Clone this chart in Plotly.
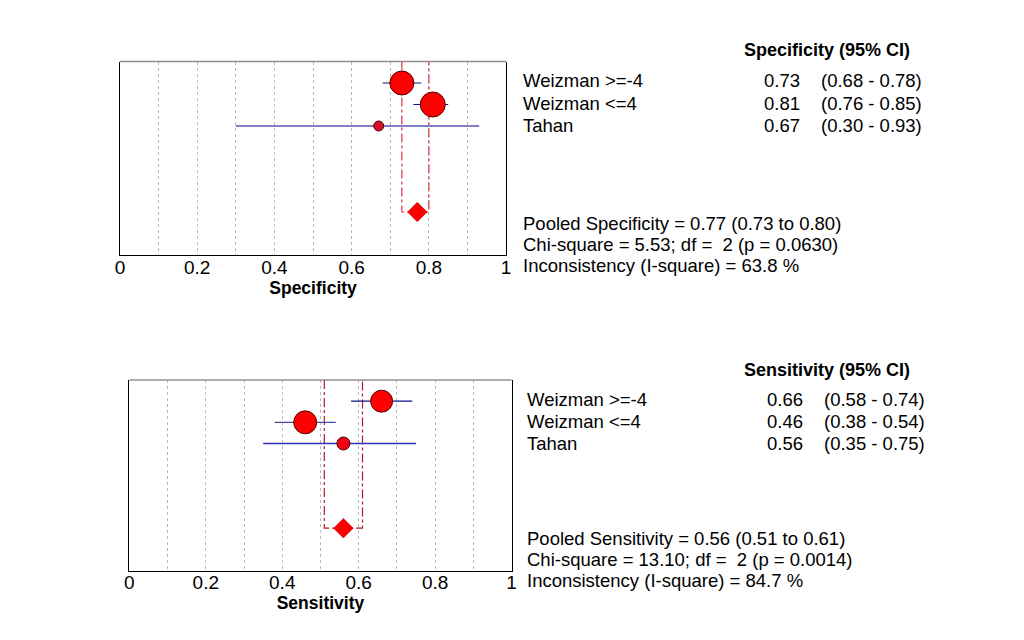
import plotly.graph_objects as go

# ---------------- data ----------------
studies = ["Weizman >=-4", "Weizman <=4", "Tahan"]

spec = [0.73, 0.81, 0.67]
spec_lo = [0.68, 0.76, 0.30]
spec_hi = [0.78, 0.85, 0.93]
spec_pooled = 0.77
spec_pooled_lo = 0.73
spec_pooled_hi = 0.80
spec_stats = ["Pooled Specificity = 0.77 (0.73 to 0.80)",
              "Chi-square = 5.53; df =  2 (p = 0.0630)",
              "Inconsistency (I-square) = 63.8 %"]

sens = [0.66, 0.46, 0.56]
sens_lo = [0.58, 0.38, 0.35]
sens_hi = [0.74, 0.54, 0.75]
sens_pooled = 0.56
sens_pooled_lo = 0.51
sens_pooled_hi = 0.61
sens_stats = ["Pooled Sensitivity = 0.56 (0.51 to 0.61)",
              "Chi-square = 13.10; df =  2 (p = 0.0014)",
              "Inconsistency (I-square) = 84.7 %"]

tick_vals = [0, 0.1, 0.2, 0.3, 0.4, 0.5, 0.6, 0.7, 0.8, 0.9, 1]
tick_text = ["0", "", "0.2", "", "0.4", "", "0.6", "", "0.8", "", "1"]

# ---------------- styles ----------------
W, H = 1024, 640
OX, OY = 8, 8          # page body margin
PAD = 3                # annotation inner padding
FONT = "Liberation Sans, Arial, sans-serif"
TXT = 18.5
spec_sizes = [24, 25, 10]
sens_sizes = [22, 23, 13]
spec_fill = ["#FF0000", "#FF0000", "#D81028"]
sens_fill = ["#FF0000", "#FF0000", "#F00010"]
spec_ci_colors = ["#101090", "#101090", "#8080C0"]
spec_ci_widths = [1.2, 1.2, 1.8]
sens_ci_colors = ["#101090", "#4848A8", "#3030C0"]
sens_ci_widths = [1.2, 1.4, 1.3]
rows = [1, 2, 3]
pooled_row = 7

fig = go.Figure()


def add_panel(xa, ya, est, lo, hi, p, plo, phi, sizes, fills, ci_colors, ci_widths, pooled_color):
    fig.add_trace(go.Scatter(x=[plo, plo, phi, phi], y=[0, pooled_row, pooled_row, 0],
                             mode="lines", xaxis=xa, yaxis=ya,
                             line=dict(color=pooled_color, width=1.2, dash="dashdot"),
                             hoverinfo="skip", showlegend=False))
    for i in range(len(est)):
        fig.add_trace(go.Scatter(x=[lo[i], hi[i]], y=[rows[i], rows[i]], mode="lines",
                                 xaxis=xa, yaxis=ya,
                                 line=dict(color=ci_colors[i], width=ci_widths[i]),
                                 hoverinfo="skip", showlegend=False))
    fig.add_trace(go.Scatter(x=est, y=rows, mode="markers", xaxis=xa, yaxis=ya,
                             marker=dict(size=sizes, color=fills, opacity=1,
                                         line=dict(color="#500000", width=1)),
                             showlegend=False))
    fig.add_trace(go.Scatter(x=[p], y=[pooled_row], mode="markers", xaxis=xa, yaxis=ya,
                             marker=dict(symbol="diamond", size=15, color="#FF0000", opacity=1,
                                         line=dict(color="#C00000", width=0.6)),
                             showlegend=False))


add_panel("x", "y", spec, spec_lo, spec_hi, spec_pooled, spec_pooled_lo, spec_pooled_hi,
          spec_sizes, spec_fill, spec_ci_colors, spec_ci_widths, "#D83444")
add_panel("x2", "y2", sens, sens_lo, sens_hi, sens_pooled, sens_pooled_lo, sens_pooled_hi,
          sens_sizes, sens_fill, sens_ci_colors, sens_ci_widths, "#B01A2A")


def xaxis_cfg(x0, x1, anchor, title):
    return dict(domain=[(x0 - OX) / W, (x1 - OX) / W], range=[0, 1], anchor=anchor,
                tickmode="array", tickvals=tick_vals, ticktext=tick_text,
                tickfont=dict(size=19, color="black", family=FONT),
                ticks="", ticklen=0, ticklabelstandoff=-5,
                showgrid=True, gridcolor="#B8B8B8", griddash="dot", gridwidth=1,
                zeroline=False, showline=True, mirror=False, linecolor="black", linewidth=1,
                title=dict(text="<b>" + title + "</b>", standoff=3,
                           font=dict(size=17.5, color="black", family=FONT)))


def yaxis_cfg(top, bottom, anchor):
    return dict(domain=[1 - (bottom - OY) / H, 1 - (top - OY) / H], range=[9, 0], anchor=anchor,
                showticklabels=False, ticks="", showgrid=False, zeroline=False,
                showline=True, mirror=True, linecolor="black", linewidth=1)


annotations = []


def txt(x, y, s, anchor="left", bold=False, size=TXT):
    xx = x - OX - PAD if anchor == "left" else x - OX + PAD
    annotations.append(dict(x=xx / W, y=1 - (y - OY) / H, xref="paper", yref="paper",
                            text=("<b>" + s + "</b>") if bold else s, showarrow=False,
                            xanchor=anchor, yanchor="middle",
                            font=dict(size=size, color="black", family=FONT)))


def add_text(header, label_x, val_x, ci_x, head_x, head_y, row_ys, stat_ys, est, lo, hi, stats):
    txt(head_x, head_y, header, "right", bold=True, size=18)
    for i, s in enumerate(studies):
        txt(label_x, row_ys[i], s)
        txt(val_x, row_ys[i], f"{est[i]:.2f}", "right")
        txt(ci_x, row_ys[i], f"({lo[i]:.2f} - {hi[i]:.2f})")
    for j, s in enumerate(stats):
        txt(label_x, stat_ys[j], s)


add_text("Specificity (95% CI)", 524, 802, 825, 913, 50, [81, 103, 125], [223, 244, 265],
         spec, spec_lo, spec_hi, spec_stats)
add_text("Sensitivity (95% CI)", 528, 805, 828, 913, 370, [399, 421, 443], [538, 559, 580],
         sens, sens_lo, sens_hi, sens_stats)

# gray top border of each plot box
shapes = [
    dict(type="line", xref="x domain", yref="y domain", x0=0, x1=1, y0=1, y1=1,
         line=dict(color="#909090", width=1.5)),
    dict(type="line", xref="x2 domain", yref="y2 domain", x0=0, x1=1, y0=1, y1=1,
         line=dict(color="#909090", width=1.5)),
]

fig.update_layout(
    width=W, height=H, margin=dict(l=0, r=0, t=0, b=0),
    paper_bgcolor="white", plot_bgcolor="white",
    font=dict(family=FONT, size=TXT, color="black"),
    xaxis=xaxis_cfg(116, 506, "y", "Specificity"),
    yaxis=yaxis_cfg(61.5, 255, "x"),
    xaxis2=xaxis_cfg(125.5, 511.5, "y2", "Sensitivity"),
    yaxis2=yaxis_cfg(380, 570.5, "x2"),
    annotations=annotations,
    shapes=shapes,
    showlegend=False,
)

fig.write_html("out.html")
